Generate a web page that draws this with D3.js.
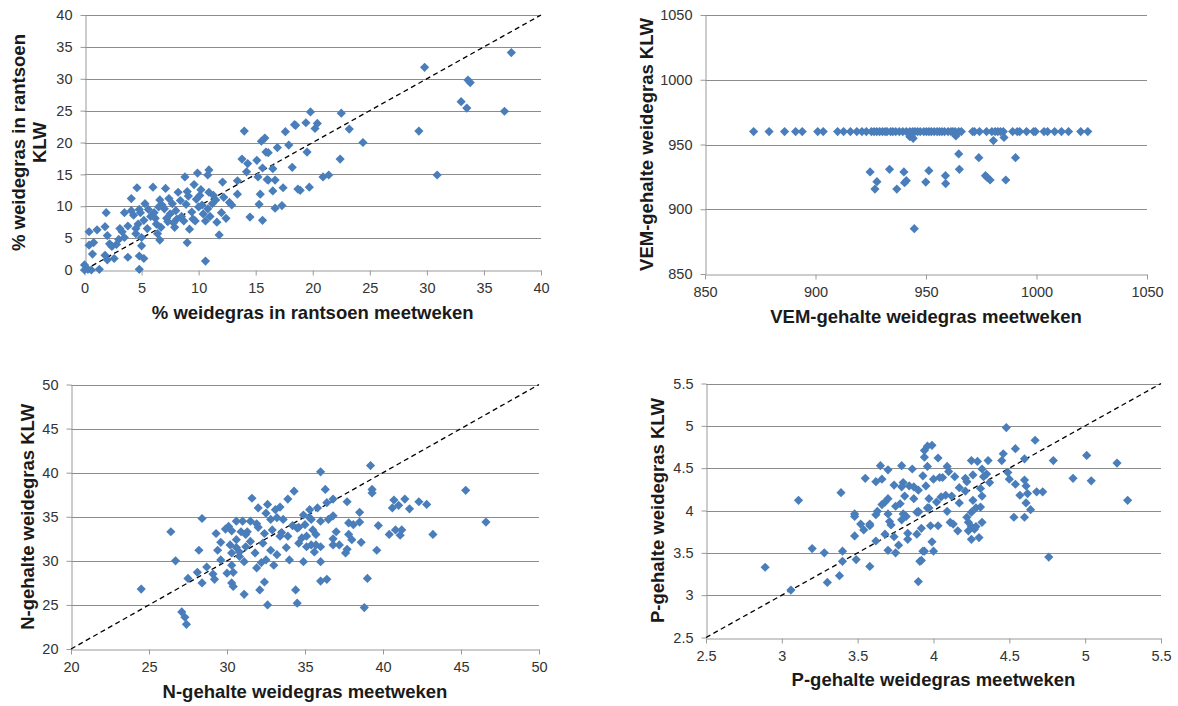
<!DOCTYPE html>
<html>
<head>
<meta charset="utf-8">
<script src="https://cdn.jsdelivr.net/npm/d3@7"></script>
<style>
  body { margin: 0; background: #fff; }
  svg { display: block; }
  text { font-family: "Liberation Sans", Arial, Helvetica, sans-serif; }
</style>
</head>
<body>
<svg id="chart" width="1178" height="706"></svg>
<script>
// ---- Data: [meetweken, KLW] per bedrijf ----

// % weidegras in rantsoen
const rantsoenPoints = [
  [0,0.8],[0,0],[0.3,0.1],[0.6,0],[1.3,0.1],[0.4,6.0],[1.1,6.3],[0.4,3.9],[0.8,4.3],[0.7,2.5],
  [1.9,9.0],[1.8,6.8],[2.0,5.4],[1.8,2.3],[2.0,1.6],[2.2,4.1],[2.6,1.8],[2.8,4.0],[3.0,4.8],[3.1,6.5],
  [3.5,5.1],[3.5,9.0],[3.8,6.9],[3.8,2.0],[4.1,11.2],[4.1,9.3],[4.3,8.6],[4.5,6.5],[4.5,5.7],[4.6,12.9],
  [4.8,9.5],[4.9,9.0],[4.7,7.2],[4.8,2.2],[4.8,0.1],[5.0,5.1],[5.0,3.8],[5.2,1.8],[5.3,10.4],[5.2,7.8],
  [5.5,6.5],[6.0,13.0],[6.1,9.0],[6.2,8.1],[6.4,5.7],[6.6,4.7],[6.7,6.7],[7.1,12.8],[7.0,9.6],[6.6,11.0],
  [7.2,8.1],[7.4,11.2],[7.5,8.8],[7.8,7.4],[7.9,6.7],[8.2,12.2],[8.4,10.9],[8.8,14.6],[8.7,7.7],[9.0,12.3],
  [9.1,11.6],[9.0,4.3],[9.2,6.4],[9.6,13.4],[9.9,15.2],[9.7,7.7],[10.0,9.9],[10.1,11.7],[10.2,12.6],[10.4,8.8],
  [10.6,7.7],[10.6,1.4],[10.8,14.9],[10.9,15.7],[11.2,10.4],[10.9,12.2],[11.3,11.7],[11.6,7.5],[11.8,5.5],[12.0,9.0],
  [12.1,13.8],[12.2,11.4],[12.4,8.1],[12.7,10.6],[12.9,10.2],[13.4,11.9],[13.4,14.0],[13.8,17.4],[14.0,21.8],[14.2,15.4],
  [14.3,16.7],[14.5,8.3],[15.1,17.2],[15.2,14.6],[15.3,10.3],[15.4,11.9],[15.5,20.2],[15.8,20.7],[15.6,7.8],[15.6,16.0],
  [15.9,18.5],[16.1,14.1],[16.5,15.9],[16.5,12.4],[16.7,14.1],[16.7,9.7],[16.9,19.2],[17.3,10.1],[17.4,12.9],[17.6,21.7],
  [17.9,19.6],[18.2,16.1],[18.4,22.8],[18.7,12.7],[16.1,18.4],[16.0,14.2],
  [5.6,9.5],[6.3,7.2],[6.8,10.2],[7.3,7.6],[8.0,9.3],[8.5,8.4],[8.9,10.3],[9.4,9.1],[9.8,11.1],[10.3,10.2],
  [10.8,9.6],[11.5,11.0],[5.8,8.4],[6.5,9.9],[7.7,10.4],[8.1,8.0],[9.5,8.0],[11.0,8.4],[3.3,6.0],[2.4,3.7],
  [37.4,34.1],[29.8,31.8],[33.6,29.8],[33.8,29.4],[33.0,26.4],[33.5,25.4],[36.8,24.9],[29.3,21.8],[30.9,14.9],[24.4,20.0],
  [23.2,22.1],[22.5,24.6],[22.4,17.4],[19.8,24.8],[20.4,23.0],[20.2,22.2],[19.4,23.1],[18.5,22.7],[19.5,18.5],[20.9,14.6],
  [21.4,14.9],[18.9,12.5],[19.7,13.0]
];

// VEM-gehalte weidegras
const vemRowX = [
  872,879,886,891,894,901,903.5,910,912.7,915.8,918.7,921,923,925.3,926.5,927.7,929,930.3,931.5,932.4,
  934,935,936.3,937.9,939.5,941.1,942.7,944,945,946.2,947.4,949,950.2,951.3,952.4,953.7,955,956.1,957.2,958.4,
  960,961.3,962.2,963.2,964.8,966,971.1,971.9,974.2,977.4,979.8,981.3,982.5,983.7,985,989.2,991.3,992.4,995.5,998.7,
  999.5,1003.4,1005,1008.2,1011.3,1014.5,1020,1023.2
];
const vemRowY = 960;
const vemOtherPoints = [
  [942.7,956],[944.2,954.8],[963.5,956.6],[980.5,953],[985.3,955.5],[964.8,942.7],[973.9,939.8],[990.5,939.8],
  [924.7,928.8],[933.5,930.8],[940,928.8],[951.3,929.8],[965.1,930.8],[958.8,925.9],[976.9,925.9],[979,922.6],
  [986.1,922.6],[927.8,921.3],[926.9,915.6],[936.8,915.6],[941.1,922.1],[940.3,920.5],[949.9,921],[958.9,919.8],
  [977.7,924.6],[944.7,885]
];

// N-gehalte weidegras
const nPoints = [
  [24.5,26.8],[26.4,33.3],[26.7,30.0],[27.1,24.2],[27.3,23.6],[27.4,22.8],[27.5,28.0],[28.1,28.7],[28.2,31.2],[28.4,34.8],
  [28.4,27.5],[28.7,29.3],[29.1,28.5],[29.2,27.9],[29.4,31.2],[29.3,33.1],[29.6,30.1],[29.6,32.1],[29.9,33.6],[30.0,28.6],
  [30.1,33.9],[30.2,31.8],[30.3,33.4],[30.3,30.9],[30.3,29.5],[30.4,28.7],[30.3,27.5],[30.4,27.1],[30.6,34.5],[30.6,32.4],
  [30.6,31.5],[30.8,30.5],[30.9,33.3],[31.0,34.5],[31.1,26.2],[31.1,29.9],[31.2,31.6],[31.3,33.3],[31.6,37.1],[31.5,34.5],
  [31.8,30.9],[31.9,34.2],[32.0,36.0],[31.9,29.2],[32.1,26.7],[32.2,29.8],[32.4,27.6],[32.4,33.1],[32.5,35.4],[32.6,36.4],
  [32.6,25.0],[32.5,30.1],[32.8,34.7],[32.9,33.5],[33.1,35.8],[33.2,30.7],[33.2,34.9],[33.4,36.1],[33.4,32.8],[33.6,34.7],
  [33.8,31.5],[33.9,32.8],[33.9,37.0],[34.0,30.1],[34.3,37.9],[34.4,26.7],[34.5,25.2],[34.5,33.7],[34.6,32.0],
  [31.5,32.2],[32.8,31.2],[33.5,33.2],[34.2,34.0],[34.8,32.6],[31.2,33.0],[32.3,32.0],[33.0,29.5],[35.6,31.0],[36.8,32.5],
  [30.8,31.0],[32.0,33.8],
  [36.0,40.1],[39.2,40.8],[39.3,38.1],[39.3,37.7],[36.3,38.1],[36.8,37.0],[36.4,36.6],[37.7,36.7],[35.3,35.8],[35.8,36.0],
  [34.9,35.2],[35.4,34.7],[36.0,34.5],[36.5,34.7],[36.8,35.1],[38.5,35.5],[37.8,34.3],[38.1,34.1],[38.5,34.4],[39.7,34.0],
  [40.7,36.9],[40.6,36.0],[41.0,36.3],[41.4,37.0],[41.7,35.9],[42.3,36.7],[42.8,36.4],[45.3,38.0],[46.6,34.4],[40.4,33.0],
  [40.8,33.5],[41.2,33.5],[41.1,32.9],[43.2,33.0],[39.6,31.2],[38.6,32.1],[37.8,33.0],[38.0,32.4],[37.0,33.3],[37.2,31.8],
  [36.8,31.8],[37.6,30.9],[37.7,31.3],[36.0,31.6],[35.7,31.8],[35.4,31.8],[35.1,31.6],[34.9,29.9],[36.0,29.9],[35.7,33.0],
  [35.1,32.8],[35.5,33.5],[36.0,27.7],[36.4,27.9],[39.0,28.0],[38.8,24.7],[35.0,34.1],[34.6,33.8],[35.3,34.9]
];

// P-gehalte weidegras
const pPoints = [
  [2.89,3.33],[3.06,3.06],[3.11,4.12],[3.20,3.55],[3.28,3.50],[3.30,3.15],[3.38,3.23],[3.39,4.21],[3.40,3.52],[3.40,3.40],
  [3.48,3.96],[3.48,3.93],[3.48,3.70],[3.49,3.42],[3.52,3.84],[3.54,3.77],[3.55,4.38],[3.58,3.82],[3.58,3.84],[3.58,3.34],
  [3.62,3.64],[3.62,3.95],[3.63,3.99],[3.62,4.34],[3.65,4.53],[3.66,4.37],[3.66,4.07],[3.68,4.10],[3.68,3.72],[3.70,3.53],
  [3.70,4.14],[3.70,4.48],[3.70,3.96],[3.71,3.87],[3.72,3.83],[3.74,3.69],[3.74,4.30],[3.75,4.05],[3.75,3.50],[3.77,3.59],
  [3.78,4.08],[3.79,4.53],[3.79,4.28],[3.79,3.89],[3.80,4.33],[3.80,3.96],[3.81,4.17],[3.82,3.93],[3.83,3.66],[3.83,3.73],
  [3.84,4.29],[3.86,4.49],[3.87,4.28],[3.87,4.14],[3.89,3.72],[3.89,3.98],[3.90,3.16],[3.90,4.24],[3.91,3.40],[3.92,3.79],
  [3.93,3.52],[3.93,4.41],[3.94,4.63],[3.94,4.71],[3.96,4.76],[3.96,4.52],[3.90,3.98],[3.95,4.29],[3.96,4.03],[3.97,4.14],
  [4.48,4.98],[4.67,4.83],[4.54,4.73],[4.46,4.67],[4.45,4.59],[4.60,4.61],[4.79,4.59],[5.01,4.65],[5.21,4.56],[4.92,4.38],
  [5.04,4.35],[5.28,4.12],[4.76,3.45],[3.99,4.77],[4.03,4.62],[4.25,4.59],[4.29,4.58],[4.36,4.59],[4.32,4.49],[4.09,4.52],
  [4.10,4.46],[4.14,4.40],[4.06,4.39],[4.04,4.39],[4.00,4.37],[4.21,4.38],[4.26,4.42],[4.33,4.40],[4.35,4.43],[4.37,4.33],
  [4.49,4.45],[4.50,4.37],[4.54,4.31],[4.57,4.18],[4.60,4.36],[4.61,4.29],[4.62,4.20],[4.68,4.22],[4.72,4.22],[4.61,4.09],
  [4.64,4.01],[4.53,3.92],[4.60,3.92],[4.22,4.34],[4.17,4.27],[4.21,4.23],[4.31,4.26],[4.32,4.17],[4.26,4.12],[4.28,4.03],
  [4.31,4.04],[4.08,4.18],[4.12,4.17],[4.02,4.10],[4.05,4.16],[4.17,4.09],[4.09,3.99],[4.11,3.86],[4.13,3.84],[4.16,3.76],
  [4.22,3.92],[4.25,3.98],[4.23,3.86],[4.25,3.81],[4.27,3.78],[4.28,3.81],[4.32,3.86],[4.23,3.76],[4.25,3.66],[4.30,3.68],
  [4.03,3.82],[3.98,3.82],[3.97,4.03],[3.99,3.63],[4.00,3.52],[3.94,3.52],[3.92,3.41],[3.90,3.99]
];

// Axis ticks
const rantsoenTicks = [0, 5, 10, 15, 20, 25, 30, 35, 40];
const vemTicks = [850, 900, 950, 1000, 1050];
const nTicks = [20, 25, 30, 35, 40, 45, 50];
const pTicks = [2.5, 3, 3.5, 4, 4.5, 5, 5.5];

// ---- Panel layout ----
const panels = [
  {
    points: rantsoenPoints, ticks: rantsoenTicks, diagonal: true,
    left: 84.5, right: 541, top: 15, bottom: 270,
    xTitle: "% weidegras in rantsoen meetweken",
    yTitle: ["% weidegras in rantsoen", "KLW"], yTitleX: [18.5, 39]
  },
  {
    points: vemRowX.map(x => [x, vemRowY]).concat(vemOtherPoints), ticks: vemTicks, diagonal: false,
    left: 705, right: 1147, top: 15, bottom: 274,
    xTitle: "VEM-gehalte weidegras meetweken",
    yTitle: ["VEM-gehalte weidegras KLW"], yTitleX: [646]
  },
  {
    points: nPoints, ticks: nTicks, diagonal: true,
    left: 71, right: 539, top: 384.5, bottom: 649,
    xTitle: "N-gehalte weidegras meetweken",
    yTitle: ["N-gehalte weidegras KLW"], yTitleX: [27]
  },
  {
    points: pPoints, ticks: pTicks, diagonal: true,
    left: 706, right: 1161, top: 383.5, bottom: 637.5,
    xTitle: "P-gehalte weidegras meetweken",
    yTitle: ["P-gehalte weidegras KLW"], yTitleX: [657]
  }
];

const svg = d3.select("#chart");
const gridColor = "#8c8c8c";
const axisColor = "#9a9a9a";
const markerColor = "#4a7ebb";
const r = 4.6;
const diamond = `M0,${-r}L${r},0L0,${r}L${-r},0Z`;

function drawPanel(p) {
  const domain = [p.ticks[0], p.ticks[p.ticks.length - 1]];
  const x = d3.scaleLinear().domain(domain).range([p.left, p.right]);
  const y = d3.scaleLinear().domain(domain).range([p.bottom, p.top]);
  const g = svg.append("g");

  // horizontal gridlines
  g.append("g").selectAll("line")
    .data(p.ticks.slice(1))
    .join("line")
    .attr("x1", p.left).attr("x2", p.right)
    .attr("y1", d => Math.round(y(d)) + 0.5).attr("y2", d => Math.round(y(d)) + 0.5)
    .attr("stroke", gridColor).attr("stroke-width", 1);

  // axes
  const xAxis = d3.axisBottom(x).tickValues(p.ticks).tickFormat(d3.format("~g"))
    .tickSize(5).tickSizeOuter(0).tickPadding(7);
  const yAxis = d3.axisLeft(y).tickValues(p.ticks).tickFormat(d3.format("~g"))
    .tickSize(5).tickSizeOuter(0).tickPadding(8);

  const gx = g.append("g").attr("transform", `translate(0,${Math.round(p.bottom) + 0.5})`).call(xAxis);
  const gy = g.append("g").attr("transform", `translate(${Math.round(p.left) + 0.5},0)`).call(yAxis);
  [gx, gy].forEach(a => {
    a.select(".domain").attr("stroke", axisColor);
    a.selectAll(".tick line").attr("stroke", axisColor);
    a.selectAll(".tick text")
      .attr("fill", "#333")
      .style("font-size", "14.5px")
      .style("font-family", '"Liberation Sans", Arial, sans-serif');
  });

  // 1:1 reference line
  if (p.diagonal) {
    g.append("line")
      .attr("x1", x(domain[0])).attr("y1", y(domain[0]))
      .attr("x2", x(domain[1])).attr("y2", y(domain[1]))
      .attr("stroke", "#000").attr("stroke-width", 1.3)
      .attr("stroke-dasharray", "5,3.5");
  }

  // markers
  g.append("g").selectAll("path")
    .data(p.points)
    .join("path")
    .attr("d", diamond)
    .attr("transform", d => `translate(${x(d[0])},${y(d[1])})`)
    .attr("fill", markerColor);

  // axis titles
  g.append("text")
    .attr("x", (p.left + p.right) / 2)
    .attr("y", p.bottom + 42)
    .attr("text-anchor", "middle")
    .attr("dominant-baseline", "central")
    .style("font-size", "18.5px").style("font-weight", "bold")
    .attr("fill", "#1a1a1a")
    .text(p.xTitle);

  const cy = (p.top + p.bottom) / 2;
  p.yTitle.forEach((t, i) => {
    g.append("text")
      .attr("transform", `translate(${p.yTitleX[i]},${cy}) rotate(-90)`)
      .attr("text-anchor", "middle")
      .attr("dominant-baseline", "central")
      .style("font-size", "18.5px").style("font-weight", "bold")
      .attr("fill", "#1a1a1a")
      .text(t);
  });
}

panels.forEach(drawPanel);
</script>
</body>
</html>
